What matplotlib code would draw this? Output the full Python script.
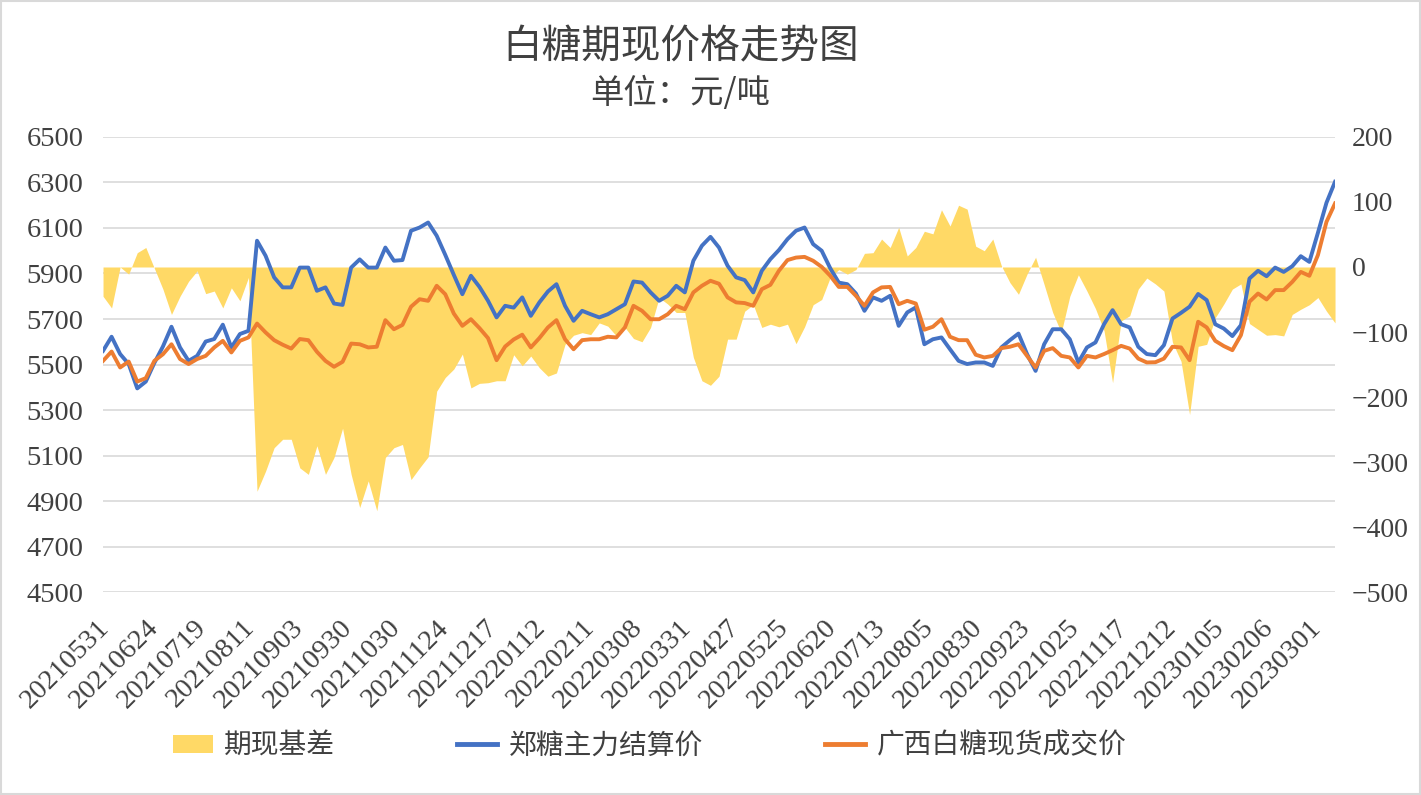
import numpy as np
import matplotlib
matplotlib.use('Agg')
import matplotlib.pyplot as plt
from matplotlib.lines import Line2D
from matplotlib.patches import Rectangle, Patch
from matplotlib.transforms import ScaledTranslation

plt.rcParams['font.family'] = ['Noto Sans CJK SC', 'DejaVu Sans']

# trading day index of every sample (one value read every 3 trading days)
step = 3
n_days = 433

# tick labels, one every 17 trading days
date_labels = ['20210531', '20210624', '20210719', '20210811', '20210903', '20210930',
               '20211030', '20211124', '20211217', '20220112', '20220211', '20220308',
               '20220331', '20220427', '20220525', '20220620', '20220713', '20220805',
               '20220830', '20220923', '20221025', '20221117', '20221212', '20230105',
               '20230206', '20230301']
label_every = 17

# 郑糖主力结算价
futures = [5560, 5622, 5546, 5502, 5395, 5425, 5507, 5579, 5666, 5575, 5516, 5538, 5601,
           5612, 5675, 5575, 5634, 5648, 6044, 5978, 5883, 5839, 5839, 5926, 5926,
           5824, 5839, 5768, 5762, 5926, 5962, 5926, 5926, 6014, 5956, 5959, 6088,
           6102, 6124, 6066, 5982, 5894, 5809, 5890, 5841, 5780, 5707, 5758, 5750,
           5795, 5714, 5773, 5821, 5853, 5758, 5692, 5736, 5721, 5707, 5721, 5743,
           5765, 5865, 5860, 5817, 5780, 5802, 5846, 5817, 5956, 6022, 6061, 6014,
           5934, 5883, 5871, 5817, 5912, 5963, 6003, 6051, 6088, 6102, 6029, 6000,
           5923, 5860, 5853, 5812, 5736, 5795, 5780, 5802, 5670, 5729, 5751, 5589,
           5611, 5619, 5567, 5516, 5502, 5509, 5509, 5494, 5575, 5607, 5636, 5546,
           5472, 5589, 5655, 5655, 5611, 5509, 5575, 5597, 5677, 5739, 5677, 5663,
           5578, 5546, 5541, 5585, 5702, 5727, 5754, 5810, 5783, 5677, 5658, 5625,
           5673, 5878, 5912, 5888, 5926, 5907, 5932, 5976, 5951, 6079, 6211, 6303]

# 广西白糖现货成交价
spot = [5516, 5557, 5487, 5513, 5425, 5440, 5516, 5545, 5589, 5524, 5502, 5524, 5538,
        5575, 5604, 5553, 5604, 5619, 5680, 5641, 5607, 5587, 5570, 5612, 5607,
        5556, 5516, 5490, 5512, 5592, 5589, 5575, 5578, 5695, 5655, 5674, 5754,
        5787, 5780, 5846, 5809, 5724, 5670, 5699, 5660, 5616, 5519, 5579, 5610,
        5631, 5575, 5616, 5663, 5695, 5611, 5567, 5607, 5611, 5611, 5622, 5619,
        5663, 5758, 5736, 5699, 5699, 5721, 5758, 5743, 5817, 5846, 5868, 5855,
        5795, 5773, 5770, 5758, 5831, 5850, 5912, 5959, 5970, 5973, 5956, 5929,
        5890, 5841, 5841, 5802, 5758, 5817, 5839, 5841, 5765, 5780, 5768, 5653,
        5666, 5699, 5622, 5607, 5607, 5543, 5531, 5538, 5572, 5578, 5589, 5538,
        5487, 5560, 5572, 5538, 5531, 5487, 5538, 5531, 5546, 5563, 5582, 5570,
        5526, 5509, 5510, 5526, 5578, 5575, 5519, 5688, 5663, 5604, 5581, 5563,
        5629, 5776, 5812, 5786, 5827, 5827, 5863, 5907, 5890, 5981, 6127, 6208]

# 期现基差
basis = [-45, -63, 0, -11, 22, 30, -2, -34, -73, -45, -22, -6, -41, -37, -63, -32, -52,
         -16, -345, -314, -278, -265, -265, -309, -319,
         -275, -319, -293, -248, -319, -370, -329, -375, -293, -278, -273, -327,
         -309, -292, -191, -170, -157, -134, -186, -179, -178, -175, -175, -135,
         -152, -137, -155, -168, -163, -119, -105, -101, -104, -86, -91, -106,
         -93, -110, -115, -93, -47, -57, -70, -70, -139, -175, -182, -168,
         -111, -111, -68, -58, -93, -88, -92, -88, -118, -92, -58, -50,
         -16, -4, -11, -4, 21, 22, 43, 30, 61, 17, 30, 55,
         51, 88, 63, 95, 89, 32, 25, 43, 2, -24, -42, -11,
         15, -27, -70, -101, -45, -12, -37, -64, -98, -178, -83, -75,
         -34, -17, -26, -37, -116, -145, -227, -122, -119, -78, -57, -34,
         -26, -87, -96, -105, -104, -106, -73, -65, -58, -47, -68, -86]

x = np.arange(0, n_days, step)

yellow = '#FFD966'
blue = '#4472C4'
orange = '#ED7D31'
txt = '#404040'
num_font = 'Liberation Serif'

fig = plt.figure(figsize=(14.21, 7.95), dpi=100)
ax = fig.add_axes([0.0725, 0.2553, 0.867, 0.5724])
ax2 = ax.twinx()   # basis area, right axis
ax3 = ax.twinx()   # price lines on top

# grid on the bottom axes so the area covers it
ax.set_ylim(4500, 6500)
ax.set_yticks(range(4500, 6501, 200))
ax.grid(axis='y', color='#D9D9D9', linewidth=1.2)
ax.set_axisbelow(True)

ax2.fill_between(x, basis, 0, color=yellow, linewidth=0)
ax2.set_ylim(-500, 200)
ax2.set_yticks(range(-500, 201, 100))

ax3.plot(x, futures, color=blue, linewidth=2.8)
ax3.plot(x, spot, color=orange, linewidth=2.8)
ax3.set_ylim(4500, 6500)
ax3.set_yticks([])

for a in (ax, ax2, ax3):
    a.set_xlim(0, n_days - 1)
    for s in a.spines.values():
        s.set_visible(False)
    a.tick_params(length=0)

ticks = np.arange(0, len(date_labels) * label_every, label_every)
ax.set_xticks(ticks)
ax.set_xticklabels(date_labels, rotation=45, ha='right', va='center',
                   rotation_mode='anchor', fontsize=20.5, family=num_font, color=txt)
ax.tick_params(axis='x', pad=23)
# nudge the date labels a little to the right, like the original
shift = ScaledTranslation(2 / 72, 0, fig.dpi_scale_trans)
for lab in ax.get_xticklabels():
    lab.set_transform(lab.get_transform() + shift)

ax.tick_params(axis='y', pad=14, labelsize=20.5, labelcolor=txt)
ax2.tick_params(axis='y', pad=12, labelsize=20, labelcolor=txt)
for lab in ax.get_yticklabels() + ax2.get_yticklabels():
    lab.set_family(num_font)

fig.text(0.479, 0.94, '白糖期现价格走势图', ha='center', va='center', fontsize=28.5, color=txt)
fig.text(0.479, 0.883, '单位：元/吨', ha='center', va='center', fontsize=24, color=txt)

handles = [Patch(facecolor=yellow, edgecolor='none'),
           Line2D([], [], color=blue, linewidth=3.5),
           Line2D([], [], color=orange, linewidth=3.5)]
fig.legend(handles, ['期现基差', '郑糖主力结算价', '广西白糖现货成交价'],
           loc='center', bbox_to_anchor=(0.457, 0.062), ncol=3, frameon=False,
           fontsize=20, handlelength=1.45, handleheight=0.65, handletextpad=0.4,
           columnspacing=4.4, labelcolor=txt)

# chart border
fig.patches.append(Rectangle((0.001, 0.001), 0.998, 0.998, transform=fig.transFigure,
                             fill=False, edgecolor='#D9D9D9', linewidth=1.5))

fig.savefig('out.png', dpi=100)
